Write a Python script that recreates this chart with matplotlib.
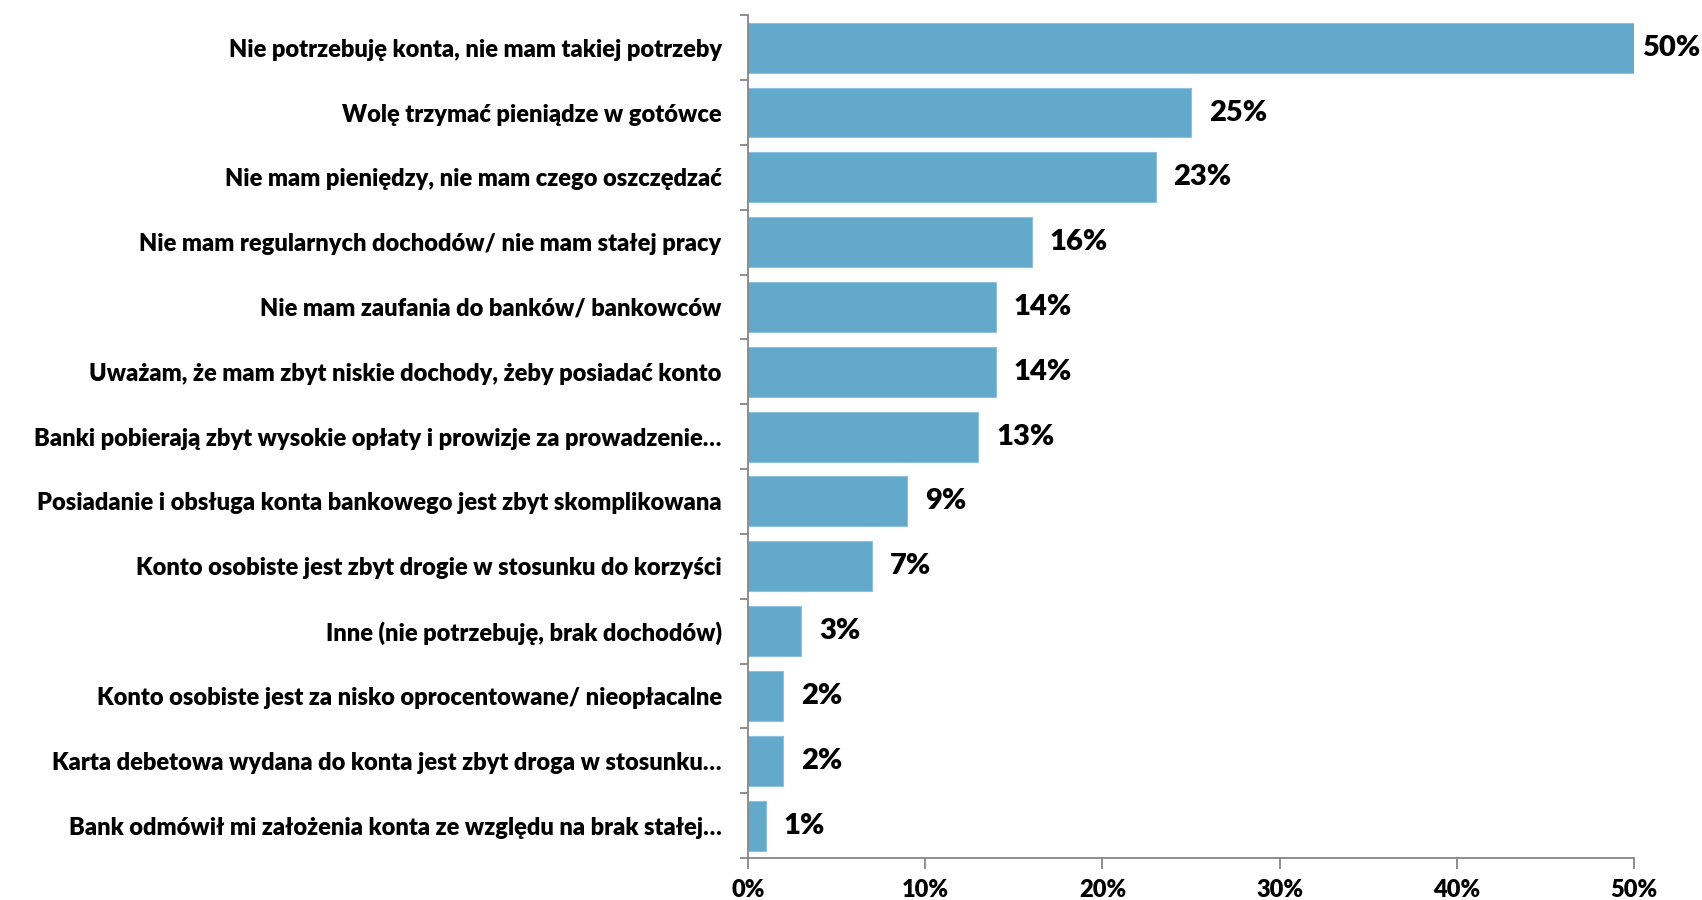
import matplotlib
matplotlib.use("Agg")
import matplotlib.pyplot as plt
import numpy as np

labels = [
    "Nie potrzebuję konta, nie mam takiej potrzeby",
    "Wolę trzymać pieniądze w gotówce",
    "Nie mam pieniędzy, nie mam czego oszczędzać",
    "Nie mam regularnych dochodów/ nie mam stałej pracy",
    "Nie mam zaufania do banków/ bankowców",
    "Uważam, że mam zbyt niskie dochody, żeby posiadać konto",
    "Banki pobierają zbyt wysokie opłaty i prowizje za prowadzenie…",
    "Posiadanie i obsługa konta bankowego jest zbyt skomplikowana",
    "Konto osobiste jest zbyt drogie w stosunku do korzyści",
    "Inne (nie potrzebuję, brak dochodów)",
    "Konto osobiste jest za nisko oprocentowane/ nieopłacalne",
    "Karta debetowa wydana do konta jest zbyt droga w stosunku…",
    "Bank odmówił mi założenia konta ze względu na brak stałej…",
]
values = [50, 25, 23, 16, 14, 14, 13, 9, 7, 3, 2, 2, 1]
xticks = [0, 10, 20, 30, 40, 50]

plt.rcParams['font.family'] = ['Lato', 'DejaVu Sans']

fig = plt.figure(figsize=(17.02, 9), dpi=100)
ax = fig.add_axes([0.4395, 0.0467, 0.5205, 0.9363])

y = np.arange(len(labels))
bars = ax.barh(y, values, height=0.77, color='#63a9cc', edgecolor='#8cc0dc', linewidth=0.8)

# labels sit a bit right of the bar end, the widest one is pulled in to fit
for b, v in zip(bars, values):
    xpos = min(b.get_width() + 1.0, 50.45)
    ax.text(xpos, b.get_y() + b.get_height() / 2, '{}%'.format(v),
            va='center', ha='left', fontsize=21, fontweight='heavy')

ax.set_ylim(len(labels) - 0.5, -0.5)
ax.set_xlim(0, 50)
ax.set_yticks(y)
ax.set_yticklabels(labels, fontsize=17, fontweight='heavy')
ax.set_yticks(np.arange(len(labels) + 1) - 0.5, minor=True)
ax.tick_params(axis='y', which='major', length=0, pad=19)
ax.tick_params(axis='y', which='minor', length=6, color='#868686', width=1.3)

ax.set_xticks(xticks)
ax.set_xticklabels(['{}%'.format(t) for t in xticks], fontsize=17, fontweight='heavy')
ax.tick_params(axis='x', length=8, color='#868686', width=1.3, pad=7)

for s in ['top', 'right']:
    ax.spines[s].set_visible(False)
for s in ['left', 'bottom']:
    ax.spines[s].set_color('#868686')
    ax.spines[s].set_linewidth(1.3)

fig.savefig('out.png', dpi=100)
